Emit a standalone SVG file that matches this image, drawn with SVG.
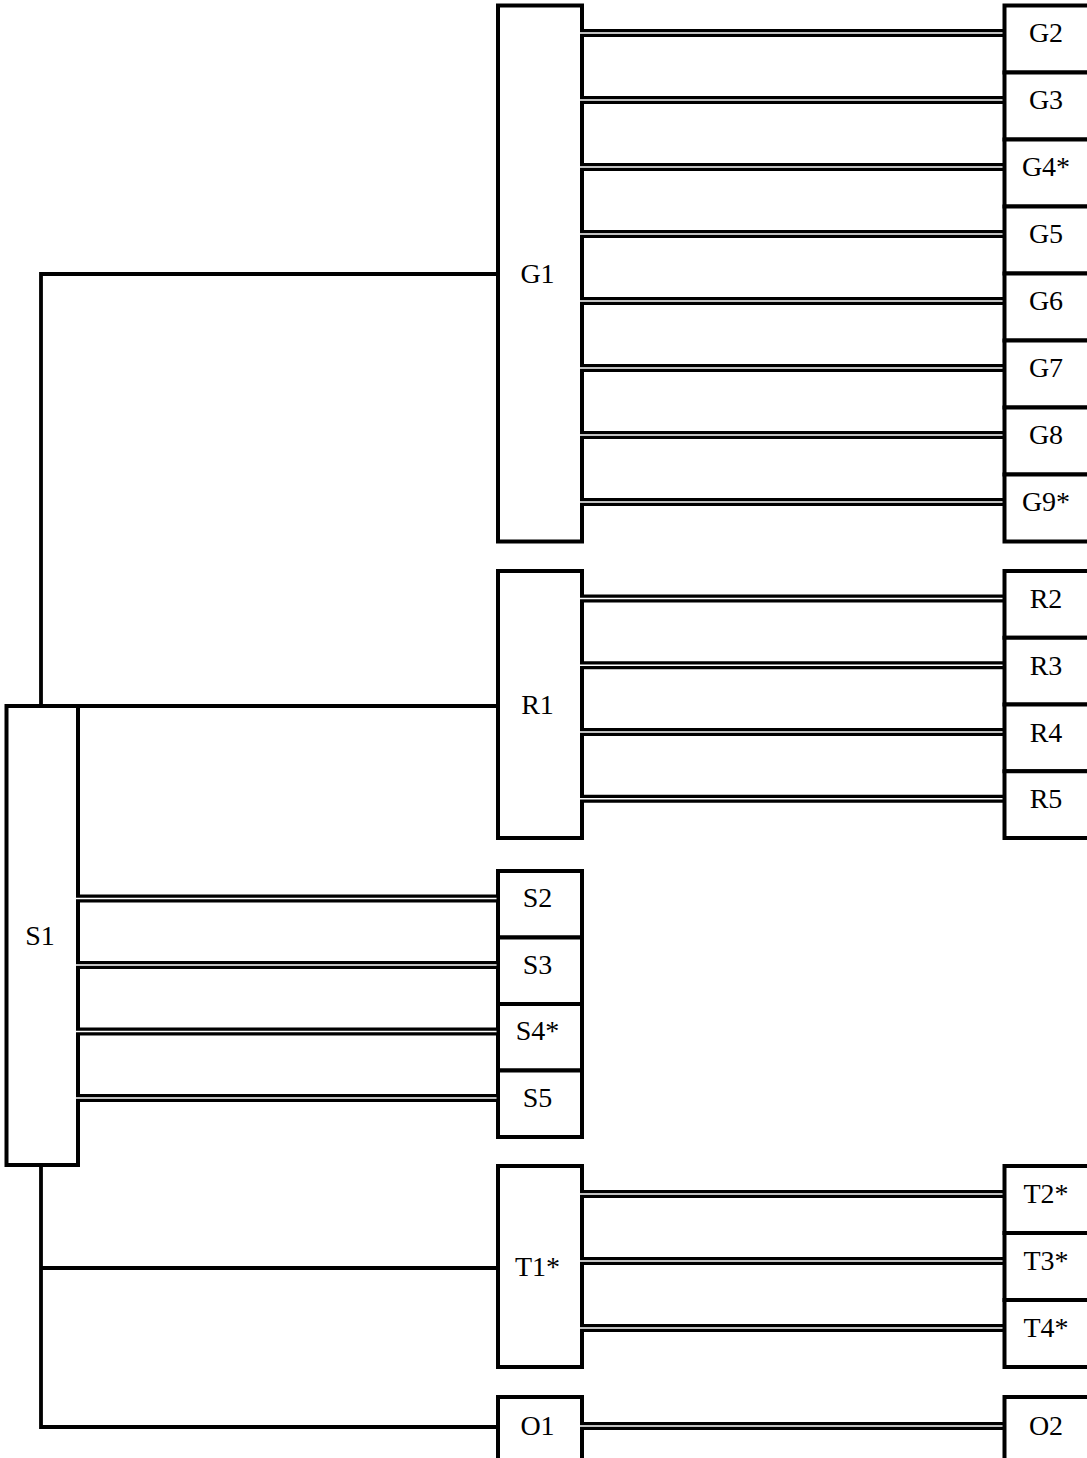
<svg xmlns="http://www.w3.org/2000/svg" width="1087" height="1458" viewBox="0 0 1087 1458">
<style>
.box{fill:#fff;stroke:#000;stroke-width:4}
.wire{fill:none;stroke:#000;stroke-width:3.8}
.dbl{stroke:#000;stroke-width:7.8}
.dblw{stroke:#fff;stroke-width:1.5}
text{font-family:"Liberation Serif","Times New Roman",serif;font-size:28px;fill:#000;text-anchor:middle}
</style>
<rect x="0" y="0" width="1087" height="1458" fill="#fff"/>
<g id="connectors-single">
<path class="wire" d="M498,274 H41 V706 H498"/>
<path class="wire" d="M41,1165 V1427 H498 M41,1268 H498"/>
</g>
<g id="S1"><rect class="box" x="6.5" y="706" width="71.5" height="459"/><text x="40" y="945">S1</text></g>
<g id="G1"><rect class="box" x="498" y="5.5" width="84" height="536"/><text x="537.5" y="283">G1</text></g>
<g id="G2"><rect class="box" x="1004.5" y="5.5" width="90" height="67"/><text x="1046" y="42">G2</text></g>
<g id="G3"><rect class="box" x="1004.5" y="72.5" width="90" height="67"/><text x="1046" y="109">G3</text></g>
<g id="G4"><rect class="box" x="1004.5" y="139.5" width="90" height="67"/><text x="1046" y="176">G4*</text></g>
<g id="G5"><rect class="box" x="1004.5" y="206.5" width="90" height="67"/><text x="1046" y="243">G5</text></g>
<g id="G6"><rect class="box" x="1004.5" y="273.5" width="90" height="67"/><text x="1046" y="310">G6</text></g>
<g id="G7"><rect class="box" x="1004.5" y="340.5" width="90" height="67"/><text x="1046" y="377">G7</text></g>
<g id="G8"><rect class="box" x="1004.5" y="407.5" width="90" height="67"/><text x="1046" y="444">G8</text></g>
<g id="G9"><rect class="box" x="1004.5" y="474.5" width="90" height="67"/><text x="1046" y="511">G9*</text></g>
<g id="R1"><rect class="box" x="498" y="571" width="84" height="267"/><text x="537.5" y="714">R1</text></g>
<g id="R2"><rect class="box" x="1004.5" y="571" width="90" height="66.75"/><text x="1046" y="608">R2</text></g>
<g id="R3"><rect class="box" x="1004.5" y="637.75" width="90" height="66.75"/><text x="1046" y="675">R3</text></g>
<g id="R4"><rect class="box" x="1004.5" y="704.5" width="90" height="66.75"/><text x="1046" y="742">R4</text></g>
<g id="R5"><rect class="box" x="1004.5" y="771.25" width="90" height="66.75"/><text x="1046" y="808">R5</text></g>
<g id="S2"><rect class="box" x="498" y="871" width="84" height="66.5"/><text x="537.5" y="907">S2</text></g>
<g id="S3"><rect class="box" x="498" y="937.5" width="84" height="66.5"/><text x="537.5" y="974">S3</text></g>
<g id="S4"><rect class="box" x="498" y="1004" width="84" height="66.5"/><text x="537.5" y="1040">S4*</text></g>
<g id="S5"><rect class="box" x="498" y="1070.5" width="84" height="66.5"/><text x="537.5" y="1107">S5</text></g>
<g id="T1"><rect class="box" x="498" y="1166" width="84" height="201"/><text x="537.5" y="1276">T1*</text></g>
<g id="T2"><rect class="box" x="1004.5" y="1166" width="90" height="67"/><text x="1046" y="1203">T2*</text></g>
<g id="T3"><rect class="box" x="1004.5" y="1233" width="90" height="67"/><text x="1046" y="1270">T3*</text></g>
<g id="T4"><rect class="box" x="1004.5" y="1300" width="90" height="67"/><text x="1046" y="1337">T4*</text></g>
<g id="O1"><rect class="box" x="498" y="1397" width="84" height="100"/><text x="537.5" y="1435">O1</text></g>
<g id="O2"><rect class="box" x="1004.5" y="1397" width="90" height="100"/><text x="1046" y="1435">O2</text></g>
<g id="connectors-double">
<path class="dbl" d="M580,33H1003M580,100H1003M580,167H1003M580,234H1003M580,301H1003M580,368H1003M580,435H1003M580,502H1003M580,598.5H1003M580,665.25H1003M580,732H1003M580,798.75H1003M76,898.5H497M76,965H497M76,1031.5H497M76,1098H497M580,1194H1003M580,1261H1003M580,1328H1003M580,1426H1003"/>
<path class="dblw" d="M580,33H1002.5M580,100H1002.5M580,167H1002.5M580,234H1002.5M580,301H1002.5M580,368H1002.5M580,435H1002.5M580,502H1002.5M580,598.5H1002.5M580,665.25H1002.5M580,732H1002.5M580,798.75H1002.5M76,898.5H496.5M76,965H496.5M76,1031.5H496.5M76,1098H496.5M580,1194H1002.5M580,1261H1002.5M580,1328H1002.5M580,1426H1002.5"/>
</g>
</svg>
